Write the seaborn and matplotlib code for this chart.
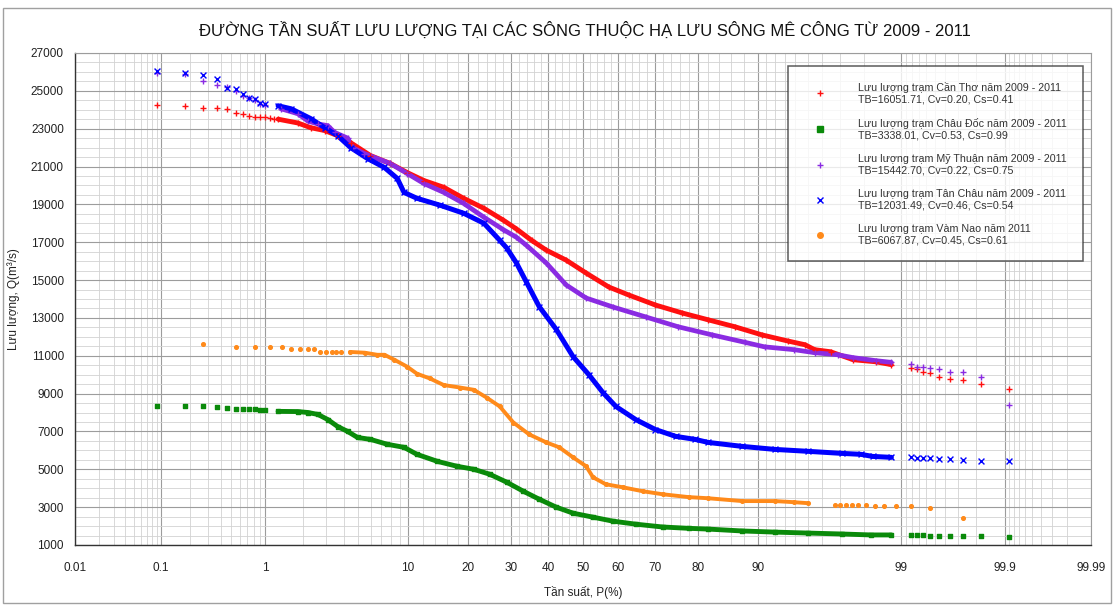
from statistics import NormalDist

import numpy as np
import pandas as pd
import seaborn as sns
from matplotlib import pyplot as plt
from matplotlib.lines import Line2D
from matplotlib.patches import Rectangle
from matplotlib.ticker import FixedLocator, FixedFormatter, MultipleLocator, StrMethodFormatter

sns.set_style("white")
plt.rcParams['font.family'] = ['Liberation Sans', 'DejaVu Sans']

# ---- data: P (%) and Q (m3/s), sorted by rank ----
TAIL_LEFT = [0.09, 0.18, 0.27, 0.37, 0.46, 0.55, 0.64, 0.73, 0.82, 0.91, 1.0]
TAIL_RIGHT = [99.18, 99.27, 99.36, 99.45, 99.54, 99.64, 99.73, 99.82, 99.91]

can_tho_p = TAIL_LEFT + [1.1, 1.19, 1.28, 1.84, 2.31, 2.93, 3.62, 4.44, 5.98, 7.9, 9.9,
                         12.2, 15.4, 19.1, 23.4, 28.0, 31.3, 35.3, 39.4, 45.1, 50.9, 57.5,
                         63.1, 70.2, 76.6, 82.0, 86.7, 90.5, 93.3, 94.8, 95.5, 96.5, 97.6,
                         98.4, 98.8] + TAIL_RIGHT
can_tho_q = [24250, 24200, 24100, 24100, 24050, 23850, 23750, 23650, 23600, 23600, 23600,
             23550, 23500, 23500, 23300, 23050, 22900, 22630, 22260, 21580, 21160, 20680,
             20260, 19900, 19320, 18790, 18160, 17700, 17100, 16580, 16050, 15370, 14630,
             14210, 13680, 13260, 12900, 12530, 12100, 11780, 11580, 11320, 11210, 10790,
             10680, 10530,
             10370, 10320, 10160, 10100, 9900, 9790, 9740, 9530, 9260]

chau_doc_p = TAIL_LEFT + [1.28, 1.84, 2.2, 2.61, 3.08, 3.62, 4.24, 4.94, 5.98, 7.6, 9.5,
                          11.2, 14.3, 17.8, 21.2, 24.7, 28.8, 33.1, 37.4, 42.2, 47.1, 52.9,
                          58.6, 65.0, 72.0, 78.0, 82.0, 87.8, 92.0, 95.0, 97.1, 98.25,
                          98.8] + TAIL_RIGHT
chau_doc_q = [8350, 8350, 8330, 8280, 8250, 8200, 8180, 8170, 8160, 8150, 8120,
              8060, 8050, 8000, 7900, 7630, 7260, 7000, 6680, 6580, 6320, 6160,
              5790, 5420, 5160, 5000, 4740, 4320, 3840, 3420, 3000, 2680, 2470,
              2260, 2100, 1950, 1880, 1840, 1740, 1680, 1630, 1580, 1530, 1530,
              1530, 1530, 1530, 1500, 1470, 1470, 1470, 1470, 1420]

my_thuan_p = TAIL_LEFT + [1.35, 1.84, 2.2, 2.61, 3.08, 3.45, 4.24, 4.58, 5.48, 7.9, 9.9,
                          12.2, 15.4, 19.1, 23.4, 28.0, 31.3, 33.9, 39.4, 45.1, 50.9, 58.6,
                          67.7, 75.7, 82.8, 88.2, 90.8, 93.9, 95.5, 96.9, 97.6, 98.4,
                          98.8] + TAIL_RIGHT
my_thuan_q = [25950, 25900, 25530, 25320, 25200, 25000, 24700, 24600, 24500, 24300, 24250,
              24050, 23790, 23400, 23250, 23160, 22800, 22500, 22000, 21680, 21160, 20630,
              20100, 19630, 19050, 18320, 17660, 17260, 16840, 15900, 14740, 14050, 13580,
              13050, 12530, 12100, 11710, 11470, 11320, 11160, 11050, 10900, 10740,
              10650,
              10580, 10420, 10420, 10370, 10320, 10160, 10160, 9900, 8420]

tan_chau_p = TAIL_LEFT + [1.28, 1.63, 2.31, 2.93, 3.62, 4.44, 5.73, 7.29, 8.69, 9.5, 11.2,
                          14.8, 19.1, 23.4, 27.1, 28.8, 31.3, 33.9, 37.4, 42.2, 47.1, 51.7,
                          55.8, 59.5, 65.0, 70.2, 75.1, 79.4, 82.0, 87.8, 92.0, 95.0, 97.1,
                          97.9, 98.3, 98.8] + TAIL_RIGHT
tan_chau_q = [26050, 25950, 25840, 25630, 25160, 25100, 24840, 24630, 24580, 24370, 24320,
              24210, 24050, 23530, 23050, 22630, 22000, 21420, 20950, 20370, 19630, 19320,
              18950, 18530, 18000, 17100, 16700, 15900, 14900, 13600, 12400, 10950, 10000,
              9050, 8320, 7630, 7100, 6740, 6580, 6420, 6210, 6050, 5950, 5840,
              5790, 5680, 5630,
              5630, 5600, 5580, 5580, 5560, 5530, 5500, 5420, 5420]

vam_nao_p = [0.27, 0.55, 0.82, 1.09, 1.37, 1.64, 1.91, 2.19, 2.46, 2.73, 3.01, 3.28, 3.55,
             3.83, 4.4, 5.5, 6.6, 7.3, 8.35, 9.9, 11.2, 13.1, 15.4, 18.4, 21.2, 24.0, 27.1,
             30.5, 34.7, 39.4, 43.1, 47.1, 50.9, 52.9, 56.6, 61.4, 66.9, 72.0, 78.0, 82.0,
             87.8, 92.0, 93.9, 95.0,
             96.72, 96.99, 97.27, 97.54, 97.81, 98.09, 98.36, 98.63, 98.91, 99.18, 99.45,
             99.73]
vam_nao_q = [11630, 11470, 11470, 11470, 11470, 11370, 11370, 11370, 11370, 11210, 11210,
             11210, 11210, 11210, 11200, 11160, 11050, 11050, 10790, 10420, 10050, 9800,
             9450, 9320, 9200, 8790, 8320, 7470, 6840, 6420, 6160, 5630, 5160, 4580, 4210,
             4050, 3840, 3680, 3530, 3470, 3320, 3320, 3260, 3210,
             3130, 3110, 3105, 3105, 3105, 3100, 3080, 3060, 3050, 3050, 2950, 2420]

STATIONS = ["Cần Thơ", "Châu Đốc", "Mỹ Thuận", "Tân Châu", "Vàm Nao"]
SERIES = {
    "Cần Thơ": (can_tho_p, can_tho_q),
    "Châu Đốc": (chau_doc_p, chau_doc_q),
    "Mỹ Thuận": (my_thuan_p, my_thuan_q),
    "Tân Châu": (tan_chau_p, tan_chau_q),
    "Vàm Nao": (vam_nao_p, vam_nao_q),
}
LABELS = {
    "Cần Thơ": "Lưu lượng trạm Cần Thơ năm 2009 - 2011\nTB=16051.71, Cv=0.20, Cs=0.41",
    "Châu Đốc": "Lưu lượng trạm Châu Đốc năm 2009 - 2011\nTB=3338.01, Cv=0.53, Cs=0.99",
    "Mỹ Thuận": "Lưu lượng trạm Mỹ Thuận năm 2009 - 2011\nTB=15442.70, Cv=0.22, Cs=0.75",
    "Tân Châu": "Lưu lượng trạm Tân Châu năm 2009 - 2011\nTB=12031.49, Cv=0.46, Cs=0.54",
    "Vàm Nao": "Lưu lượng trạm Vàm Nao năm 2011\nTB=6067.87, Cv=0.45, Cs=0.61",
}
X_TICKS = [0.01, 0.1, 1, 10, 20, 30, 40, 50, 60, 70, 80, 90, 99, 99.9, 99.99]
X_TICK_LABELS = ["0.01", "0.1", "1", "10", "20", "30", "40", "50", "60", "70", "80", "90",
                 "99", "99.9", "99.99"]

# ---- styles ----
COLORS = {"Cần Thơ": "#ff1010", "Châu Đốc": "#0a8a0a", "Mỹ Thuận": "#8a2be2",
          "Tân Châu": "#0000ff", "Vàm Nao": "#ff8a1a"}
MARKERS = {"Cần Thơ": "+", "Châu Đốc": "s", "Mỹ Thuận": "+", "Tân Châu": "x", "Vàm Nao": "o"}
MARKER_S = {"Cần Thơ": 18, "Châu Đốc": 10, "Mỹ Thuận": 18, "Tân Châu": 18, "Vàm Nao": 7}
LINE_W = {"Cần Thơ": 3.5, "Châu Đốc": 3.5, "Mỹ Thuận": 3.4, "Tân Châu": 3.6, "Vàm Nao": 2.8}
LINE_SPAN = {"Cần Thơ": (1.2, 98.9), "Châu Đốc": (1.2, 98.9), "Mỹ Thuận": (1.3, 98.9),
             "Tân Châu": (1.2, 98.9), "Vàm Nao": (4.0, 95.5)}

_norm = NormalDist()
_ppf = np.vectorize(_norm.inv_cdf, otypes=[float])
_cdf = np.vectorize(_norm.cdf, otypes=[float])


def prob_forward(p):
    p = np.clip(np.asarray(p, dtype=float), 1e-5, 100 - 1e-5)
    return _ppf(p / 100.0)


def prob_inverse(z):
    return _cdf(np.asarray(z, dtype=float)) * 100.0


frames = []
for name in STATIONS:
    p, q = SERIES[name]
    frames.append(pd.DataFrame({"station": name, "P": p, "Q": q}))
df = pd.concat(frames, ignore_index=True)

fig = plt.figure(figsize=(11.15, 6.06), dpi=100)
ax = fig.add_axes([0.0673, 0.1007, 0.9112, 0.8119])
ax.set_xscale("function", functions=(prob_forward, prob_inverse))

for name in STATIONS:
    sub = df[df.station == name]
    lo, hi = LINE_SPAN[name]
    dense = sub[(sub.P >= lo) & (sub.P <= hi)]
    sns.lineplot(data=dense, x="P", y="Q", ax=ax, color=COLORS[name], lw=LINE_W[name],
                 estimator=None, sort=False, legend=False, zorder=3)
    kw = {}
    if MARKERS[name] in ("s", "o"):
        kw["edgecolor"] = COLORS[name]
    sns.scatterplot(data=sub, x="P", y="Q", ax=ax, color=COLORS[name], marker=MARKERS[name],
                    s=MARKER_S[name], linewidth=1.0, legend=False, zorder=4, **kw)

ax.set_xlim(0.01, 99.99)
ax.set_ylim(1000, 27000)

minor_x = ([i / 100 for i in range(2, 10)] + [i / 10 for i in range(2, 10)] +
           list(range(2, 10)) + [v for v in range(12, 90, 2) if v % 10] +
           list(range(91, 99)) + [99 + i / 10 for i in range(1, 9)] +
           [99.9 + i / 100 for i in range(1, 9)])
ax.xaxis.set_major_locator(FixedLocator(X_TICKS))
ax.xaxis.set_major_formatter(FixedFormatter(X_TICK_LABELS))
ax.xaxis.set_minor_locator(FixedLocator(minor_x))
ax.yaxis.set_major_locator(FixedLocator(list(range(1000, 27001, 2000))))
ax.yaxis.set_major_formatter(StrMethodFormatter("{x:.0f}"))
ax.yaxis.set_minor_locator(MultipleLocator(500))

ax.grid(which="major", color="#9c9c9c", lw=0.8, zorder=0)
ax.grid(which="minor", color="#d2d2d2", lw=0.6, zorder=0)
ax.set_axisbelow(True)
ax.tick_params(which="major", direction="out", length=6, width=0.9, color="#333333",
               labelsize=8.5, labelcolor="#222222")
ax.tick_params(axis="x", which="major", pad=6)
ax.tick_params(axis="y", which="major", pad=2)
ax.tick_params(which="minor", length=0)
for side in ("left", "bottom"):
    ax.spines[side].set_color("#333333")
    ax.spines[side].set_linewidth(1.0)
for side in ("top", "right"):
    ax.spines[side].set_color("#9c9c9c")
    ax.spines[side].set_linewidth(0.8)

ax.set_xlabel("Tần suất, P(%)", fontsize=8.5, color="#222222", labelpad=9)
ax.set_ylabel("Lưu lượng, Q(m³/s)", fontsize=8.5, color="#222222", labelpad=8)

fig.text(0.525, 0.95, "ĐƯỜNG TẦN SUẤT LƯU LƯỢNG TẠI CÁC SÔNG THUỘC HẠ LƯU SÔNG MÊ CÔNG TỪ 2009 - 2011",
         ha="center", va="center", fontsize=12, color="#111111")

handles = [Line2D([], [], ls="none", marker=MARKERS[n], color=COLORS[n], markersize=4,
                  markeredgewidth=1.0) for n in STATIONS]
leg = ax.legend(handles, [LABELS[n] for n in STATIONS], loc="upper right",
                bbox_to_anchor=(0.992, 0.974), borderaxespad=0, frameon=True, fancybox=False,
                prop={"size": 7.7}, handlelength=3.0, handletextpad=2.1, borderpad=1.5,
                labelspacing=1.25)
leg.get_frame().set_edgecolor("#333333")
leg.get_frame().set_linewidth(1.1)
for t in leg.get_texts():
    t.set_color("#333333")

fig.patches.append(Rectangle((3 / 1115, 3 / 606), 1108 / 1115, 595 / 606,
                             transform=fig.transFigure, fill=False, edgecolor="#a0a0a0",
                             lw=1.0))

fig.savefig("out.png", dpi=100)
